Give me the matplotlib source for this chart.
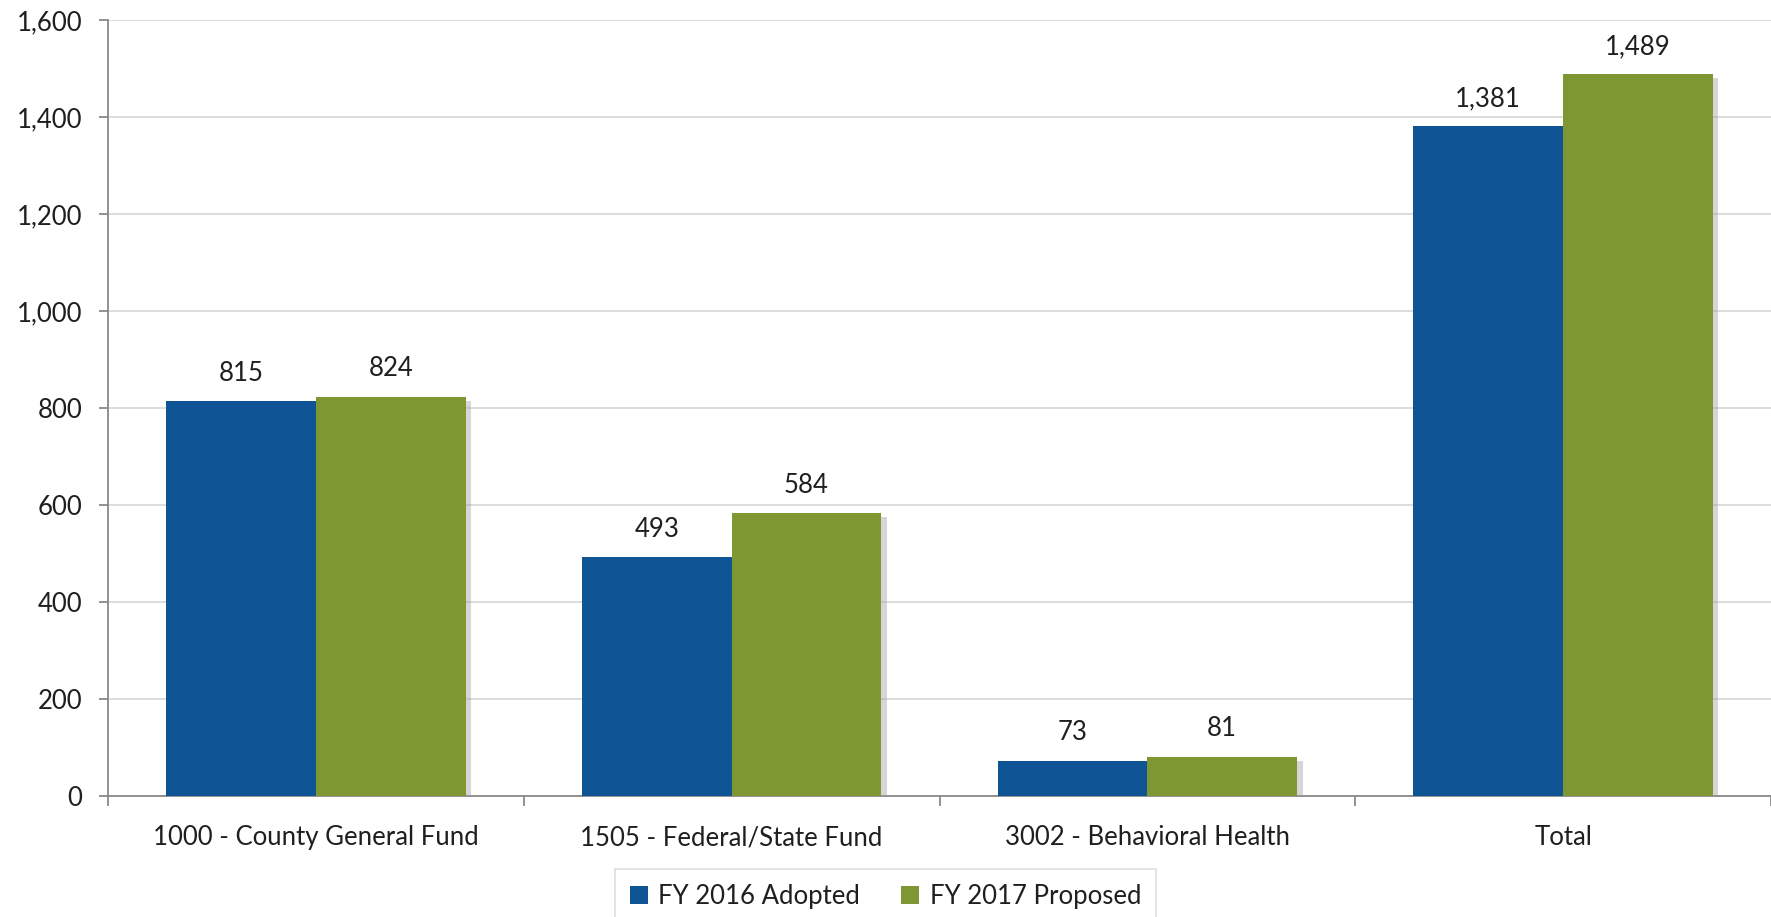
import matplotlib.pyplot as plt
import matplotlib.patheffects as pe
import numpy as np

categories = ["1000 - County General Fund", "1505 - Federal/State Fund",
              "3002 - Behavioral Health", "Total"]
fy2016_adopted = [815, 493, 73, 1381]
fy2017_proposed = [824, 584, 81, 1489]
series_names = ["FY 2016 Adopted", "FY 2017 Proposed"]
colors = ["#0F5494", "#7E9733"]

plt.rcParams['font.family'] = ['Lato', 'DejaVu Sans']
fs = 18.5

fig = plt.figure(figsize=(17.71, 9.17), dpi=100)
ax = fig.add_axes([108 / 1771, 1 - 796 / 917, 1 - 108 / 1771, (796 - 20.3) / 917])

x = np.arange(len(categories))
w = 0.36
shadow = [pe.SimplePatchShadow(offset=(4, -3), shadow_rgbFace="#999999", alpha=0.4), pe.Normal()]

for i, (vals, name) in enumerate(zip([fy2016_adopted, fy2017_proposed], series_names)):
    bars = ax.bar(x + (i - 0.5) * w, vals, w, color=colors[i], label=name, zorder=3)
    for b, v in zip(bars, vals):
        b.set_path_effects(shadow)
        ax.annotate(f"{v:,}", (b.get_x() + b.get_width() / 2, v), xytext=(0, 20),
                    textcoords="offset points", ha="center", va="center",
                    fontsize=fs, color="#1F1F1F", zorder=5)

ax.set_xlim(-0.5, len(categories) - 0.5)
ax.set_ylim(0, 1600)
ax.set_yticks(np.arange(0, 1601, 200))
ax.yaxis.set_major_formatter(plt.FuncFormatter(lambda v, p: f"{int(v):,}"))
ax.grid(axis="y", color="#D9D9D9", linewidth=1.3, zorder=0)

ax.set_xticks(x)
ax.set_xticklabels(categories)
ax.set_xticks(np.arange(-0.5, len(categories)), minor=True)
ax.tick_params(axis="x", which="major", length=0, pad=21, labelsize=fs, labelcolor="#1F1F1F")
ax.tick_params(axis="x", which="minor", length=7, width=1.3, color="#898989")
ax.tick_params(axis="y", length=6.5, width=1.3, color="#898989", pad=12,
               labelsize=fs, labelcolor="#1F1F1F")

for s in ["top", "right"]:
    ax.spines[s].set_visible(False)
for s in ["left", "bottom"]:
    ax.spines[s].set_color("#898989")
    ax.spines[s].set_linewidth(1.3)

leg = fig.legend(loc="upper center", bbox_to_anchor=(0.5, 1 - 869 / 917), ncol=2,
                 fontsize=fs, frameon=True, fancybox=False, edgecolor="#D9D9D9",
                 handlelength=0.7, handleheight=0.7, handletextpad=0.4,
                 columnspacing=1.6, borderpad=0.6, borderaxespad=0)
leg.get_frame().set_linewidth(1.3)
for h in leg.legend_handles:
    h.set_path_effects([])
for t in leg.get_texts():
    t.set_color("#1F1F1F")

fig.savefig("out.png", dpi=100)
